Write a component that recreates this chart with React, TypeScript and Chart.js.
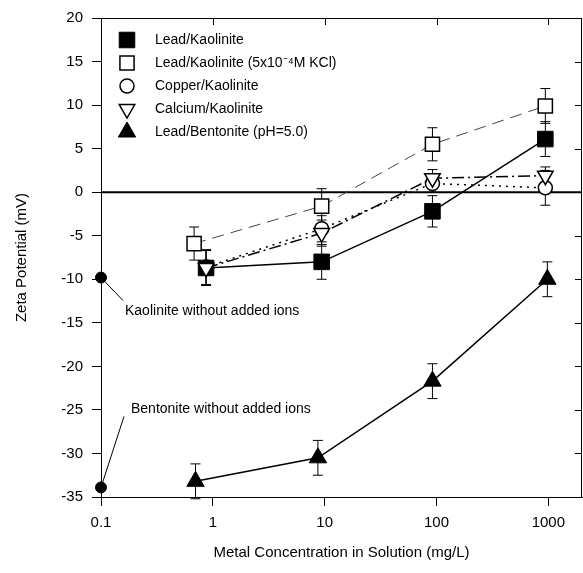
import React, { useEffect, useRef } from 'react';
import { Chart, registerables } from 'chart.js';
import { drawPoint } from 'chart.js/helpers';

Chart.register(...registerables);

// ---- data ----
const xTickValues = [0.1, 1, 10, 100, 1000];
const xMin = 0.1;
const xMax = 2000;
const yMin = -35;
const yMax = 20;
const yStep = 5;

const leadKaolX = [0.87, 9.4, 92, 940];
const leadKaolY = [-8.7, -8.0, -2.2, 6.1];
const leadKaolErr = [2, 2, 1.8, 2];

const leadKclX = [0.68, 9.4, 92, 940];
const leadKclY = [-5.9, -1.6, 5.5, 9.9];
const leadKclErr = [1.9, 2, 1.9, 2];

const copperX = [0.87, 9.4, 92, 940];
const copperY = [-8.6, -4.2, 1.0, 0.5];
const copperErr = [2, 1.5, 1, 2];

const calciumX = [0.87, 9.4, 92, 940];
const calciumY = [-8.7, -4.7, 1.6, 1.9];
const calciumErr = [2, 1.5, 1, 1];

const bentX = [0.7, 8.7, 92, 980];
const bentY = [-33.2, -30.5, -21.7, -10.0];
const bentErr = [2, 2, 2, 2];

const refX = [0.1, 0.1];
const refY = [-9.8, -33.9];
const refLabels = ['Kaolinite without added ions', 'Bentonite without added ions'];

const seriesLabels = [
  'Lead/Kaolinite',
  'Lead/Kaolinite (5x10\u207B\u2074M KCl)',
  'Copper/Kaolinite',
  'Calcium/Kaolinite',
  'Lead/Bentonite (pH=5.0)',
];

const FONT = "Arial, 'Liberation Sans', sans-serif";

const pts = (xs: number[], ys: number[]) => xs.map((x, i) => ({ x, y: ys[i] }));

const errorBarPlugin = {
  id: 'errorBars',
  beforeDatasetsDraw(chart: any) {
    const { ctx, scales } = chart;
    const xs = scales.x, ys = scales.y;
    ctx.save();
    // zero line
    ctx.strokeStyle = '#000';
    ctx.lineWidth = 2;
    ctx.beginPath();
    const y0 = ys.getPixelForValue(0);
    ctx.moveTo(chart.chartArea.left, y0);
    ctx.lineTo(chart.chartArea.right, y0);
    ctx.stroke();
    ctx.lineWidth = 1;
    chart.data.datasets.forEach((ds: any) => {
      if (!ds.errors) return;
      ds.data.forEach((p: any, i: number) => {
        const e = ds.errors[i];
        const px = xs.getPixelForValue(p.x);
        const top = ys.getPixelForValue(p.y + e);
        const bot = ys.getPixelForValue(p.y - e);
        ctx.beginPath();
        ctx.moveTo(px, top);
        ctx.lineTo(px, bot);
        ctx.moveTo(px - 5, top);
        ctx.lineTo(px + 5, top);
        ctx.moveTo(px - 5, bot);
        ctx.lineTo(px + 5, bot);
        ctx.stroke();
      });
    });
    ctx.restore();
  },
};

const framePlugin = {
  id: 'frame',
  afterDraw(chart: any) {
    const { ctx, chartArea, scales } = chart;
    const { left, right, top, bottom } = chartArea;
    ctx.save();
    ctx.strokeStyle = '#000';
    ctx.lineWidth = 1;
    ctx.beginPath();
    ctx.moveTo(left, top + 0.5);
    ctx.lineTo(right - 0.5, top + 0.5);
    ctx.lineTo(right - 0.5, bottom);
    xTickValues.forEach((v) => {
      const px = Math.round(scales.x.getPixelForValue(v)) + 0.5;
      ctx.moveTo(px, top);
      ctx.lineTo(px, top + 7);
    });
    for (let v = yMin; v <= yMax; v += yStep) {
      const py = Math.round(scales.y.getPixelForValue(v)) + 0.5;
      ctx.moveTo(right, py);
      ctx.lineTo(right - 7, py);
    }
    ctx.stroke();

    // legend
    ctx.font = `14px ${FONT}`;
    ctx.textBaseline = 'middle';
    ctx.textAlign = 'left';
    ctx.fillStyle = '#000';
    seriesLabels.forEach((label, i) => {
      const ds = chart.data.datasets[i];
      const cy = 40 + i * 23;
      const cx = 127;
      ctx.fillStyle = ds.pointBackgroundColor;
      ctx.strokeStyle = '#000';
      ctx.lineWidth = ds.pointBorderWidth;
      drawPoint(ctx, { pointStyle: ds.pointStyle, rotation: ds.pointRotation || 0, radius: ds.pointRadius, borderWidth: ds.pointBorderWidth }, cx, cy);
      ctx.fillStyle = '#000';
      ctx.fillText(label, 155, cy);
    });

    // annotations for reference points
    const offsets = [
      { lx: 22, ly: 23, tx: 24, ty: 34 },
      { lx: 23, ly: -71, tx: 30, ty: -78 },
    ];
    ctx.lineWidth = 1;
    refLabels.forEach((label, i) => {
      const px = scales.x.getPixelForValue(refX[i]);
      const py = scales.y.getPixelForValue(refY[i]);
      const o = offsets[i];
      ctx.beginPath();
      ctx.moveTo(px, py);
      ctx.lineTo(px + o.lx, py + o.ly);
      ctx.stroke();
      ctx.fillText(label, px + o.tx, py + o.ty);
    });
    ctx.restore();
  },
};

export default function App() {
  const ref = useRef<HTMLCanvasElement>(null);
  useEffect(() => {
    if (!ref.current) return;
    const chart = new Chart(ref.current, {
      type: 'scatter',
      data: {
        datasets: [
          {
            label: seriesLabels[0],
            data: pts(leadKaolX, leadKaolY),
            errors: leadKaolErr,
            order: 2,
            showLine: true,
            borderColor: '#000',
            borderWidth: 1.5,
            pointStyle: 'rect',
            pointRadius: 11,
            pointBackgroundColor: '#000',
            pointBorderColor: '#000',
            pointBorderWidth: 1,
          },
          {
            label: seriesLabels[1],
            data: pts(leadKclX, leadKclY),
            errors: leadKclErr,
            order: 4,
            showLine: true,
            borderColor: '#444',
            borderWidth: 1,
            borderDash: [12, 7],
            pointStyle: 'rect',
            pointRadius: 10,
            pointBackgroundColor: '#fff',
            pointBorderColor: '#000',
            pointBorderWidth: 1.5,
          },
          {
            label: seriesLabels[2],
            data: pts(copperX, copperY),
            errors: copperErr,
            order: 3,
            showLine: true,
            borderColor: '#000',
            borderWidth: 1.5,
            borderDash: [2, 5],
            pointStyle: 'circle',
            pointRadius: 7,
            pointBackgroundColor: '#fff',
            pointBorderColor: '#000',
            pointBorderWidth: 1.5,
          },
          {
            label: seriesLabels[3],
            data: pts(calciumX, calciumY),
            errors: calciumErr,
            order: 1,
            showLine: true,
            borderColor: '#000',
            borderWidth: 1.5,
            borderDash: [12, 4, 2, 4],
            pointStyle: 'triangle',
            pointRotation: 180,
            pointRadius: 9,
            pointBackgroundColor: '#fff',
            pointBorderColor: '#000',
            pointBorderWidth: 1.5,
          },
          {
            label: seriesLabels[4],
            data: pts(bentX, bentY),
            errors: bentErr,
            order: 5,
            showLine: true,
            borderColor: '#000',
            borderWidth: 1.5,
            pointStyle: 'triangle',
            pointRadius: 10,
            pointBackgroundColor: '#000',
            pointBorderColor: '#000',
            pointBorderWidth: 1,
          },
          {
            label: 'reference',
            data: pts(refX, refY),
            order: 0,
            showLine: false,
            pointStyle: 'circle',
            pointRadius: 5.5,
            pointBackgroundColor: '#000',
            pointBorderColor: '#000',
            pointBorderWidth: 1,
          },
        ] as any,
      },
      options: {
        animation: false,
        responsive: false,
        clip: false as any,
        layout: { autoPadding: false, padding: { top: 16, right: 1, left: 0, bottom: 0 } },
        plugins: { legend: { display: false }, tooltip: { enabled: false } },
        scales: {
          x: {
            type: 'logarithmic',
            min: xMin,
            max: xMax,
            afterBuildTicks: (scale: any) => {
              scale.ticks = xTickValues.map((v) => ({ value: v }));
            },
            afterFit: (scale: any) => {
              scale.height = 76;
              scale.paddingLeft = 0;
              scale.paddingRight = 0;
            },
            ticks: {
              color: '#000',
              font: { size: 15, family: FONT },
              padding: 8,
              maxRotation: 0,
              autoSkip: false,
              callback: (v: any) => String(v),
            },
            grid: { drawOnChartArea: false, drawTicks: true, tickLength: 9, color: '#000' },
            border: { display: true, color: '#000', width: 1 },
            title: {
              display: true,
              text: 'Metal Concentration in Solution (mg/L)',
              color: '#000',
              font: { size: 15, family: FONT },
              padding: { top: 0, bottom: 11 },
            },
          },
          y: {
            min: yMin,
            max: yMax,
            afterFit: (scale: any) => {
              scale.width = 101;
            },
            ticks: {
              stepSize: yStep,
              color: '#000',
              font: { size: 15, family: FONT },
              padding: 9,
            },
            grid: { drawOnChartArea: false, drawTicks: true, tickLength: 9, color: '#000' },
            border: { display: true, color: '#000', width: 1 },
            title: {
              display: true,
              text: 'Zeta Potential (mV)',
              color: '#000',
              font: { size: 15, family: FONT },
              padding: { top: 13, bottom: 0 },
            },
          },
        },
      },
      plugins: [errorBarPlugin, framePlugin],
    });
    return () => chart.destroy();
  }, []);
  return (
    <div style={{ position: 'fixed', left: 0, top: 0, width: 583, height: 573, background: '#fff' }}>
      <canvas ref={ref} width={583} height={573} style={{ display: 'block', width: 583, height: 573 }} />
    </div>
  );
}
